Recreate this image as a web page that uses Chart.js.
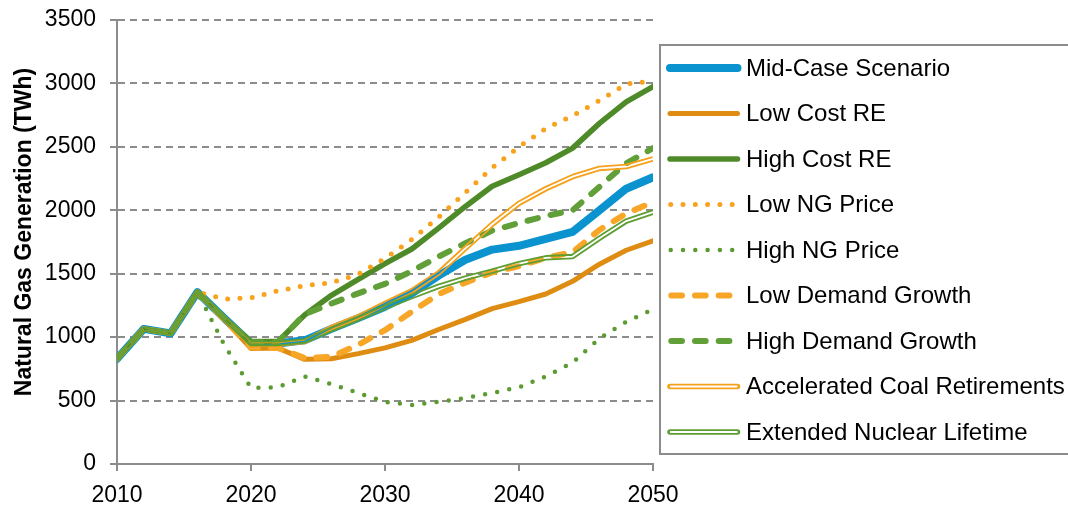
<!DOCTYPE html>
<html>
<head>
<meta charset="utf-8">
<title>Natural Gas Generation by Scenario</title>
<script src="https://cdn.jsdelivr.net/npm/chart.js@4/dist/chart.umd.min.js"></script>
<style>
  html, body { margin: 0; padding: 0; background: #fff; overflow: hidden; }
  canvas { display: block; }
</style>
</head>
<body>
<canvas id="chart" width="1068" height="506"></canvas>
<script>
// Natural gas generation (TWh), one value every two years
const years = [2010, 2012, 2014, 2016, 2018, 2020, 2022, 2024, 2026, 2028, 2030,
               2032, 2034, 2036, 2038, 2040, 2042, 2044, 2046, 2048, 2050];

const midCase          = [830, 1065, 1030, 1355, 1150, 950, 950, 975, 1065, 1150, 1240, 1345, 1485, 1610, 1690, 1720, 1775, 1830, 2000, 2170, 2260];
const lowCostRE        = [830, 1065, 1030, 1355, 1140, 910, 915, 825, 830, 870, 915, 975, 1060, 1140, 1225, 1280, 1340, 1440, 1575, 1685, 1760];
const highCostRE       = [830, 1065, 1030, 1355, 1150, 965, 965, 1175, 1330, 1455, 1580, 1695, 1860, 2030, 2190, 2280, 2375, 2490, 2685, 2855, 2975];
const lowNGPrice       = [830, 1065, 1030, 1355, 1300, 1310, 1365, 1405, 1430, 1495, 1620, 1770, 1945, 2140, 2335, 2500, 2645, 2745, 2865, 2995, 3020];
const highNGPrice      = [830, 1065, 1030, 1355, 940, 600, 605, 690, 630, 560, 490, 465, 490, 520, 560, 605, 690, 800, 990, 1120, 1220];
const lowDemandGrowth  = [830, 1065, 1030, 1355, 1140, 920, 915, 835, 845, 940, 1055, 1200, 1340, 1430, 1510, 1560, 1625, 1670, 1845, 1975, 2065];
const highDemandGrowth = [830, 1065, 1030, 1355, 1150, 960, 960, 1180, 1265, 1345, 1420, 1520, 1635, 1740, 1840, 1900, 1955, 2000, 2185, 2370, 2490];
const accelCoalRetire  = [830, 1065, 1030, 1355, 1150, 945, 945, 965, 1075, 1160, 1265, 1365, 1505, 1700, 1890, 2055, 2170, 2265, 2330, 2345, 2405];
const extNuclearLife   = [830, 1065, 1030, 1355, 1150, 950, 950, 970, 1060, 1145, 1235, 1320, 1400, 1465, 1520, 1580, 1625, 1635, 1780, 1915, 1985];

const seriesNames = ['Mid-Case Scenario', 'Low Cost RE', 'High Cost RE', 'Low NG Price', 'High NG Price',
                     'Low Demand Growth', 'High Demand Growth', 'Accelerated Coal Retirements', 'Extended Nuclear Lifetime'];
const seriesValues = [midCase, lowCostRE, highCostRE, lowNGPrice, highNGPrice,
                      lowDemandGrowth, highDemandGrowth, accelCoalRetire, extNuclearLife];

const xTickValues = [2010, 2020, 2030, 2040, 2050];
const yTickValues = [0, 500, 1000, 1500, 2000, 2500, 3000, 3500];
const yAxisTitle = 'Natural Gas Generation (TWh)';

// Line styling per series (same order as the series above)
const DOT = [0, 12.3];
const DASH = [10.7, 13];
const lineStyles = [
  { color: '#0A93CF', width: 8 },
  { color: '#DF8C12', width: 5 },
  { color: '#4F8A29', width: 5.5 },
  { color: '#F8A21E', width: 5, dash: DOT },
  { color: '#5C9B31', width: 4.5, dash: DOT },
  { color: '#F7A627', width: 6, dash: DASH },
  { color: '#61A038', width: 6, dash: DASH },
  { color: '#F5A11C', width: 5.5, inner: 1.8 },
  { color: '#5E9E33', width: 5.5, inner: 1.8 }
];

const FONT = '"Liberation Sans", Arial, Helvetica, sans-serif';
const GRID = '#8c8c8c';
Chart.defaults.font.family = FONT;

const datasets = seriesNames.map((name, i) => {
  const st = lineStyles[i];
  return {
    label: name,
    data: years.map((yr, k) => ({ x: yr, y: seriesValues[i][k] })),
    borderColor: st.color,
    backgroundColor: st.color,
    borderWidth: st.width,
    borderDash: st.dash || [],
    borderCapStyle: 'round',
    borderJoinStyle: 'round',
    fill: false,
    pointRadius: 0,
    tension: 0,
    innerLine: st.inner || 0,
    // later series sit on top of earlier ones
    order: seriesNames.length - 1 - i
  };
});

// Double-line series: two thin strokes with an open (see-through) gap between them
const doubleLine = {
  id: 'doubleLine',
  beforeDatasetDraw(chart, args) {
    const ds = chart.data.datasets[args.index];
    if (!ds.innerLine) return;
    const pts = args.meta.data;
    const a = chart.chartArea;
    const off = document.createElement('canvas');
    off.width = chart.width;
    off.height = chart.height;
    const o = off.getContext('2d');
    const trace = () => {
      o.beginPath();
      pts.forEach((p, k) => k ? o.lineTo(p.x, p.y) : o.moveTo(p.x, p.y));
    };
    o.lineJoin = 'round';
    o.lineCap = 'butt';
    trace();
    o.strokeStyle = ds.borderColor;
    o.lineWidth = ds.borderWidth;
    o.stroke();
    o.globalCompositeOperation = 'destination-out';
    trace();
    o.lineWidth = ds.innerLine;
    o.stroke();
    const ctx = chart.ctx;
    ctx.save();
    ctx.beginPath();
    ctx.rect(a.left, a.top - 5, a.right - a.left, a.bottom - a.top + 10);
    ctx.clip();
    ctx.drawImage(off, 0, 0);
    ctx.restore();
    return false;
  }
};

// Boxed legend on the right
const legendBox = {
  id: 'legendBox',
  afterDraw(chart) {
    const ctx = chart.ctx;
    ctx.save();
    ctx.strokeStyle = GRID;
    ctx.lineWidth = 2;
    ctx.beginPath();
    ctx.moveTo(1200, 45);
    ctx.lineTo(660, 45);
    ctx.lineTo(660, 454);
    ctx.lineTo(1200, 454);
    ctx.stroke();
    chart.data.datasets.forEach((ds, i) => {
      const y = 68 + i * 45.5;
      ctx.save();
      ctx.beginPath();
      ctx.strokeStyle = ds.borderColor;
      ctx.lineWidth = ds.borderWidth;
      ctx.lineCap = 'round';
      ctx.setLineDash(ds.borderDash || []);
      const x0 = (ds.borderDash && ds.borderDash.length) ? (ds.borderDash[0] === 0 ? 670.7 : 671.3) : 670;
      ctx.moveTo(x0, y);
      ctx.lineTo(737.5, y);
      ctx.stroke();
      if (ds.innerLine) {
        ctx.beginPath();
        ctx.strokeStyle = '#ffffff';
        ctx.lineWidth = ds.innerLine;
        ctx.lineCap = 'butt';
        ctx.moveTo(670, y);
        ctx.lineTo(737.5, y);
        ctx.stroke();
      }
      ctx.restore();
      ctx.fillStyle = '#000';
      ctx.font = '24px ' + FONT;
      ctx.textAlign = 'left';
      ctx.textBaseline = 'middle';
      ctx.fillText(ds.label, 746, y + 1);
    });
    ctx.restore();
  }
};

// Rotated value-axis title
const yTitle = {
  id: 'yTitle',
  afterDraw(chart) {
    const ctx = chart.ctx;
    ctx.save();
    ctx.translate(31, 232);
    ctx.rotate(-Math.PI / 2);
    ctx.fillStyle = '#000';
    ctx.font = 'bold 23px ' + FONT;
    ctx.textAlign = 'center';
    ctx.textBaseline = 'alphabetic';
    ctx.fillText(yAxisTitle, 0, 0);
    ctx.restore();
  }
};

const bgWhite = {
  id: 'bgWhite',
  beforeDraw(chart) {
    const ctx = chart.ctx;
    ctx.save();
    ctx.fillStyle = '#fff';
    ctx.fillRect(0, 0, chart.width, chart.height);
    ctx.restore();
  }
};

new Chart(document.getElementById('chart'), {
  type: 'line',
  data: { datasets },
  options: {
    responsive: false,
    animation: false,
    devicePixelRatio: 1,
    layout: { padding: { left: 0, right: 415, top: 20, bottom: 0 } },
    plugins: { legend: { display: false }, tooltip: { enabled: false }, title: { display: false } },
    scales: {
      x: {
        type: 'linear',
        min: xTickValues[0],
        max: xTickValues[xTickValues.length - 1],
        afterBuildTicks: s => { s.ticks = xTickValues.map(v => ({ value: v })); },
        afterFit: s => { s.height = 42; },
        ticks: { font: { size: 23 }, color: '#000', padding: 11, maxRotation: 0, autoSkip: false,
                 callback: v => String(v) },
        grid: { drawOnChartArea: false, drawTicks: true, tickLength: 7, tickWidth: 2,
                tickColor: GRID, color: GRID, lineWidth: 2 },
        border: { color: GRID, width: 2 }
      },
      y: {
        min: yTickValues[0],
        max: yTickValues[yTickValues.length - 1],
        afterBuildTicks: s => { s.ticks = yTickValues.map(v => ({ value: v })); },
        afterFit: s => { s.width = 117; s.paddingTop = 8; s.paddingBottom = 8; },
        ticks: { font: { size: 23 }, color: '#000', padding: 14, callback: v => String(v) },
        grid: { color: GRID, lineWidth: 2, drawTicks: true, tickLength: 7, tickWidth: 2, tickColor: GRID },
        border: { color: GRID, width: 2, dash: [7, 5] }
      }
    }
  },
  plugins: [bgWhite, doubleLine, legendBox, yTitle]
});
</script>
</body>
</html>
